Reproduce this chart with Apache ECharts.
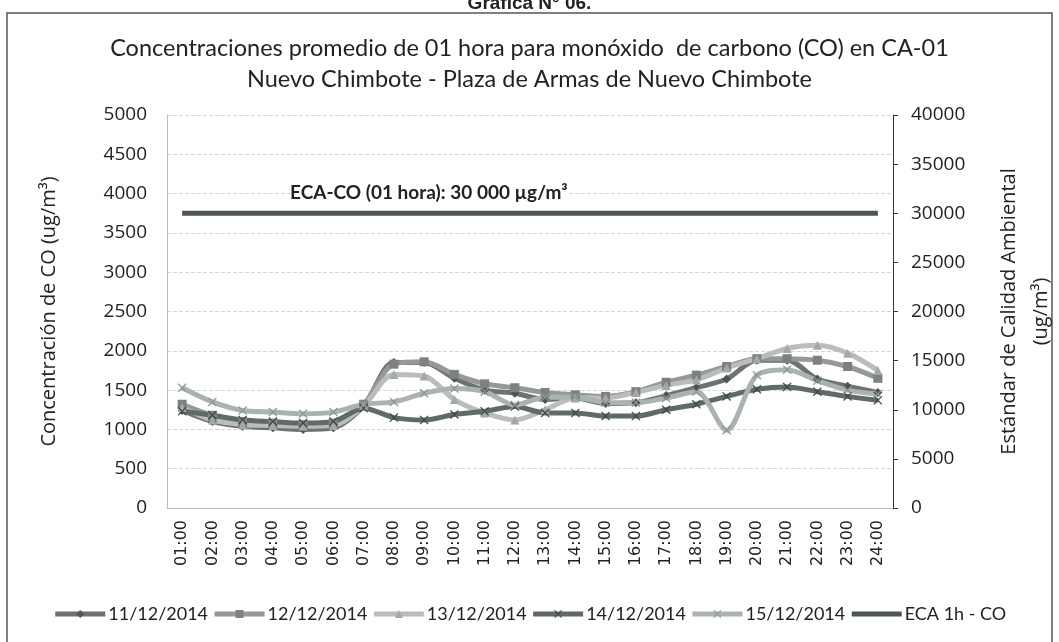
<!DOCTYPE html>
<html>
<head>
<meta charset="utf-8">
<script src="https://cdn.jsdelivr.net/npm/echarts@6/dist/echarts.min.js"></script>
<style>
  html, body { margin: 0; padding: 0; background: #fff; }
  #chart { width: 1059px; height: 642px; }
</style>
</head>
<body>
<div id="chart"></div>
<script>
const hours = ['01:00','02:00','03:00','04:00','05:00','06:00','07:00','08:00','09:00','10:00','11:00','12:00',
  '13:00','14:00','15:00','16:00','17:00','18:00','19:00','20:00','21:00','22:00','23:00','24:00'];

const d1112 = [1240,1100,1040,1020,1000,1020,1300,1850,1850,1650,1500,1460,1380,1400,1330,1340,1430,1530,1640,1880,1880,1640,1550,1470];
const d1212 = [1320,1180,1100,1080,1060,1080,1320,1830,1860,1700,1580,1530,1470,1440,1420,1480,1600,1690,1800,1900,1900,1880,1800,1650];
const d1312 = [1280,1120,1060,1050,1040,1050,1300,1700,1680,1380,1210,1120,1250,1400,1400,1470,1560,1630,1780,1900,2030,2070,1970,1750];
const d1412 = [1230,1180,1120,1100,1080,1100,1270,1150,1120,1190,1230,1290,1210,1210,1170,1170,1250,1320,1420,1510,1540,1480,1420,1370];
const d1512 = [1530,1350,1240,1220,1200,1220,1320,1350,1460,1520,1480,1310,1410,1410,1340,1340,1400,1480,990,1690,1760,1620,1500,1450];
const eca = hours.map(() => 30000);

const leftTicks = { min: 0, max: 5000, interval: 500 };
const rightTicks = { min: 0, max: 40000, interval: 5000 };

// x-shaped marker like the excel star
const xMark = 'path://M0,1L1,0L5,4L9,0L10,1L6,5L10,9L9,10L5,6L1,10L0,9L4,5Z';

const chart = echarts.init(document.getElementById('chart'), null, { renderer: 'canvas' });

const mkSeries = (name, data, color, symbol, symbolColor) => ({
  name,
  type: 'line',
  data,
  smooth: 0.3,
  symbol,
  symbolSize: 9,
  itemStyle: { color: symbolColor },
  lineStyle: { color, width: 5 },
  emphasis: { disabled: true }
});

const option = {
  animation: false,
  backgroundColor: '#fff',
  title: [
    {
      text: 'Gráfica N° 06.',
      left: 'center',
      top: -11,
      textStyle: { fontFamily: 'Liberation Sans', fontSize: 19, fontWeight: 'bold', color: '#222' }
    },
    {
      text: 'Concentraciones promedio de 01 hora para monóxido  de carbono (CO) en CA-01\nNuevo Chimbote - Plaza de Armas de Nuevo Chimbote',
      left: 'center',
      top: 28,
      textStyle: { fontFamily: 'Lato', fontSize: 23.5, fontWeight: 'normal', color: '#222', lineHeight: 31 }
    }
  ],
  graphic: [
    {
      type: 'rect',
      shape: { x: 7, y: 13, width: 1045, height: 660 },
      style: { fill: 'none', stroke: '#555', lineWidth: 1.5 },
      silent: true
    },
    {
      type: 'text',
      left: 290,
      top: 183,
      z: 10,
      style: {
        text: 'ECA-CO (01 hora): 30 000 µg/m³',
        font: 'bold 19px Lato',
        fill: '#222',
        backgroundColor: '#fff'
      }
    }
  ],
  legend: {
    bottom: 14,
    left: 'center',
    itemWidth: 50,
    itemHeight: 10,
    itemGap: 4,
    lineStyle: { width: 5 },
    textStyle: { fontFamily: 'Lato', fontSize: 18, color: '#222', padding: [0, 0, 0, -2] },
    data: ['11/12/2014', '12/12/2014', '13/12/2014', '14/12/2014', '15/12/2014',
      { name: 'ECA 1h - CO', itemStyle: { opacity: 0 } }]
  },
  grid: { left: 167, right: 166, top: 115, bottom: 134, outerBoundsMode: 'none', containLabel: false },
  xAxis: {
    type: 'category',
    data: hours,
    boundaryGap: true,
    axisLine: { lineStyle: { color: '#bbb' } },
    axisTick: { show: false },
    axisLabel: { rotate: 90, margin: 12, fontFamily: 'DejaVu Sans', fontSize: 16, color: '#222' }
  },
  yAxis: [
    {
      type: 'value',
      ...leftTicks,
      name: 'Concentración de CO (ug/m³)',
      nameLocation: 'middle',
      nameGap: 108,
      nameTextStyle: { fontFamily: 'Open Sans', fontSize: 20, color: '#222' },
      axisLine: { show: true, lineStyle: { color: '#bbb' } },
      axisTick: { show: false },
      axisLabel: { margin: 20, fontFamily: 'Open Sans', fontSize: 19, color: '#222', formatter: (v) => String(v) },
      splitLine: { lineStyle: { color: '#d4d4d4', type: [4, 2] } }
    },
    {
      type: 'value',
      ...rightTicks,
      position: 'right',
      name: 'Estándar de Calidad Ambiental\n(ug/m³)',
      nameLocation: 'middle',
      nameGap: 100,
      nameTextStyle: { fontFamily: 'Open Sans', fontSize: 20, color: '#222', lineHeight: 32 },
      axisLine: { show: true, lineStyle: { color: '#333' } },
      axisTick: { show: true, length: 5, lineStyle: { color: '#333' } },
      axisLabel: { margin: 18, fontFamily: 'Open Sans', fontSize: 19, color: '#222', formatter: (v) => String(v) },
      splitLine: { show: false }
    }
  ],
  series: [
    mkSeries('11/12/2014', d1112, '#6e7370', 'diamond', '#4f5451'),
    mkSeries('12/12/2014', d1212, '#959a97', 'rect', '#7d827f'),
    mkSeries('13/12/2014', d1312, '#b9bdbb', 'triangle', '#a4a9a6'),
    mkSeries('14/12/2014', d1412, '#5f6b64', xMark, '#3f4a44'),
    mkSeries('15/12/2014', d1512, '#aab3ae', xMark, '#8f9994'),
    {
      name: 'ECA 1h - CO',
      type: 'line',
      yAxisIndex: 1,
      data: eca,
      symbol: 'none',
      lineStyle: { color: '#4b5650', width: 5 },
      itemStyle: { color: '#4b5650' },
      emphasis: { disabled: true }
    }
  ]
};

chart.setOption(option);
</script>
</body>
</html>
